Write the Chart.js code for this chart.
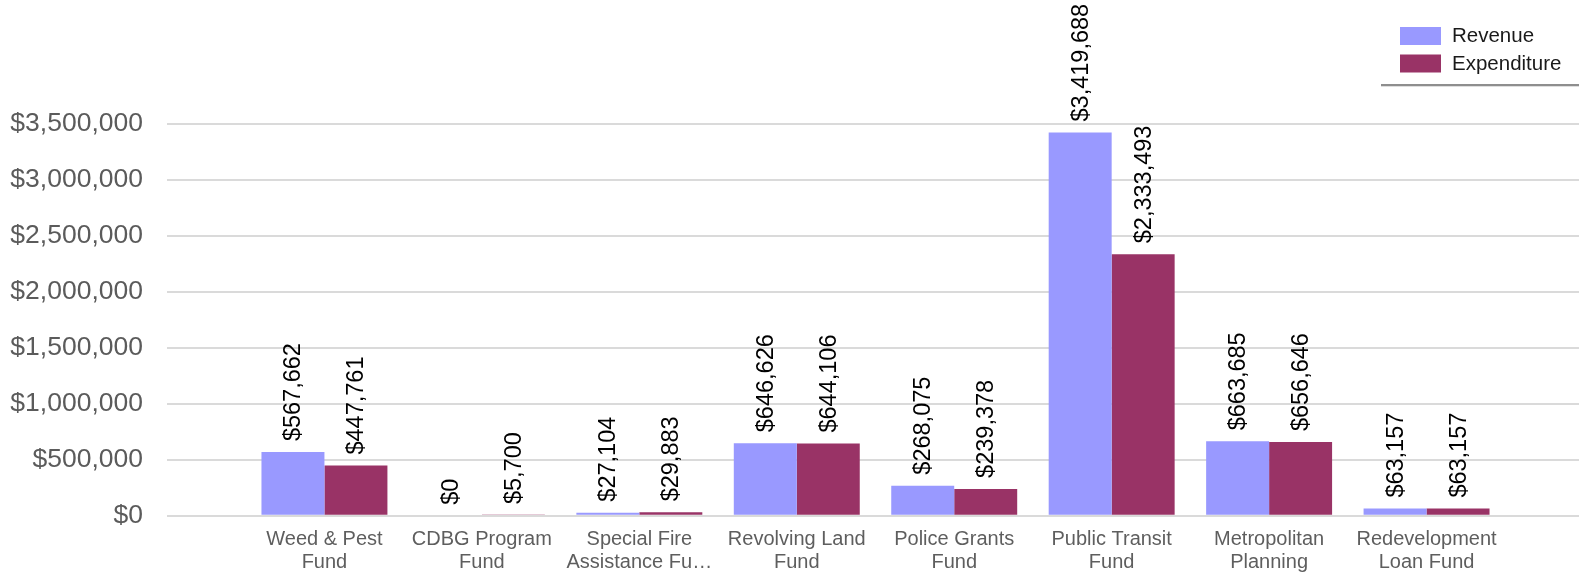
<!DOCTYPE html>
<html>
<head>
<meta charset="utf-8">
<script src="https://cdn.jsdelivr.net/npm/chart.js@4"></script>
<style>
  html, body { margin: 0; padding: 0; background: #ffffff; overflow: hidden; }
  #c { display: block; }
</style>
</head>
<body>
<canvas id="c" width="1584" height="576" style="width:1584px;height:576px"></canvas>
<script>
// ---- data ----
const categories = [
  ["Weed & Pest", "Fund"],
  ["CDBG Program", "Fund"],
  ["Special Fire", "Assistance Fu…"],
  ["Revolving Land", "Fund"],
  ["Police Grants", "Fund"],
  ["Public Transit", "Fund"],
  ["Metropolitan", "Planning"],
  ["Redevelopment", "Loan Fund"]
];
const revenue     = [567662, 0, 27104, 646626, 268075, 3419688, 663685, 63157];
const expenditure = [447761, 5700, 29883, 644106, 239378, 2333493, 656646, 63157];
const seriesNames = ["Revenue", "Expenditure"];
const seriesColors = ["#9999ff", "#993366"];
const yTicks = [0, 500000, 1000000, 1500000, 2000000, 2500000, 3000000, 3500000];

// the axis has one empty slot before the first and after the last category
const labels = [""].concat(categories, [""]);
const pad = arr => [null].concat(arr, [null]);

const FONT = "'Liberation Sans', Arial, sans-serif";
const money = v => "$" + Number(v).toLocaleString("en-US");

const valueLabels = {
  id: "valueLabels",
  afterDatasetsDraw(chart) {
    const ctx = chart.ctx;
    ctx.save();
    ctx.font = "23.5px " + FONT;
    ctx.fillStyle = "#000000";
    ctx.textAlign = "left";
    ctx.textBaseline = "middle";
    chart.data.datasets.forEach((ds, di) => {
      const meta = chart.getDatasetMeta(di);
      meta.data.forEach((el, i) => {
        const v = ds.data[i];
        if (v === null || v === undefined) return;
        ctx.save();
        ctx.translate(el.x, el.y - 11);
        ctx.rotate(-Math.PI / 2);
        ctx.fillText(money(v), 0, 1);
        ctx.restore();
      });
    });
    ctx.restore();
  }
};

const customLegend = {
  id: "customLegend",
  afterDraw(chart) {
    const ctx = chart.ctx;
    ctx.save();
    chart.data.datasets.forEach((ds, i) => {
      const y = 27 + i * 27.5;
      ctx.fillStyle = ds.backgroundColor;
      ctx.fillRect(1400, y, 41, 18);
      ctx.fillStyle = "#1a1a1a";
      ctx.font = "20.5px " + FONT;
      ctx.textAlign = "left";
      ctx.textBaseline = "middle";
      ctx.fillText(ds.label, 1452, y + 9.5);
    });
    ctx.strokeStyle = "#8e8e8e";
    ctx.lineWidth = 2;
    ctx.beginPath();
    ctx.moveTo(1381, 85);
    ctx.lineTo(1584, 85);
    ctx.stroke();
    ctx.strokeStyle = "#dedede";
    ctx.lineWidth = 1;
    ctx.beginPath();
    ctx.moveTo(1381, 86.5);
    ctx.lineTo(1584, 86.5);
    ctx.stroke();
    ctx.restore();
  }
};

new Chart(document.getElementById("c"), {
  type: "bar",
  data: {
    labels: labels,
    datasets: [
      { label: seriesNames[0], data: pad(revenue), backgroundColor: seriesColors[0] },
      { label: seriesNames[1], data: pad(expenditure), backgroundColor: seriesColors[1] }
    ]
  },
  options: {
    responsive: false,
    devicePixelRatio: 1,
    animation: false,
    layout: { padding: { top: 123.5, right: 0, bottom: 0, left: 0 } },
    datasets: { bar: { categoryPercentage: 0.80, barPercentage: 1.0, borderWidth: 0 } },
    plugins: {
      legend: { display: false },
      tooltip: { enabled: false }
    },
    scales: {
      x: {
        offset: false,
        grid: { display: false, drawTicks: false },
        border: { display: false },
        ticks: {
          autoSkip: false,
          maxRotation: 0,
          padding: 12,
          color: "#5e5e5e",
          font: { family: FONT, size: 20, lineHeight: 1.15 }
        },
        afterFit(scale) { scale.height = 60.3; scale.paddingLeft = 0; scale.paddingRight = 0; }
      },
      y: {
        min: 0,
        max: 3500000,
        afterBuildTicks(scale) { scale.ticks = yTicks.map(v => ({ value: v })); },
        grid: { color: "#dadada", lineWidth: 2, drawTicks: false },
        border: { display: false },
        ticks: {
          padding: 24,
          color: "#5b5b5b",
          font: { family: FONT, size: 26.5 },
          callback: v => money(v)
        },
        afterFit(scale) { scale.width = 167; }
      }
    }
  },
  plugins: [valueLabels, customLegend]
});
</script>
</body>
</html>
